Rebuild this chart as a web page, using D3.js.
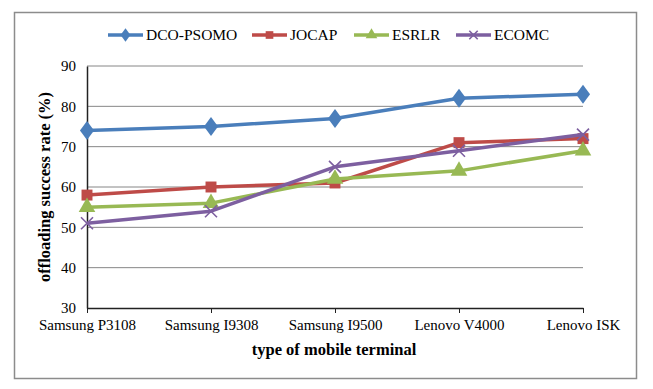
<!DOCTYPE html>
<html>
<head>
<meta charset="utf-8">
<style>
body{margin:0;background:#fff;}
svg{display:block;}
</style>
</head>
<body>
<script src="https://cdn.jsdelivr.net/npm/d3@7/dist/d3.min.js"></script>
<script>
var categories = ["Samsung P3108","Samsung I9308","Samsung I9500","Lenovo V4000","Lenovo ISK"];
var seriesNames = ["DCO-PSOMO","JOCAP","ESRLR","ECOMC"];
var dcoPsomo = [74,75,77,82,83];
var jocap = [58,60,61,71,72];
var esrlr = [55,56,62,64,69];
var ecomc = [51,54,65,69,73];
var yTicks = [30,40,50,60,70,80,90];

var colors = ["#4A7EBB","#BE4B48","#98B954","#7D5FA0"];
var symbols = [d3.symbolDiamond, d3.symbolSquare, d3.symbolTriangle, d3.symbolCross];
var series = [dcoPsomo, jocap, esrlr, ecomc];
var serif = "'Liberation Serif', 'Times New Roman', serif";

var w = 653, h = 389;
var pLeft = 87, pRight = 583, pTop = 66, pBottom = 308;

var svg = d3.select("body").append("svg").attr("width", w).attr("height", h);

// outer frame
svg.append("rect").attr("x",14.5).attr("y",12.5).attr("width",622).attr("height",366)
  .attr("fill","#fff").attr("stroke","#8c8c8c").attr("stroke-width",1.5);

var x = d3.scalePoint().domain(categories).range([pLeft, pRight]);
var y = d3.scaleLinear().domain([30,90]).range([pBottom, pTop]);

// gridlines
svg.append("g").selectAll("line").data(yTicks.slice(1)).enter().append("line")
  .attr("x1", pLeft).attr("x2", pRight)
  .attr("y1", function(d){return y(d);}).attr("y2", function(d){return y(d);})
  .attr("stroke","#868686").attr("stroke-width",1);

// y axis
var yAxis = d3.axisLeft(y).tickValues(yTicks).tickSize(0).tickPadding(11);
var yg = svg.append("g").attr("transform","translate(" + pLeft + ",0)").call(yAxis);
yg.attr("font-family", serif).attr("font-size", 15);
yg.selectAll("text").attr("fill","#000");
yg.select(".domain").attr("stroke","#222").attr("stroke-width",1.5);

// x axis
var xAxis = d3.axisBottom(x).tickSize(5).tickSizeOuter(0).tickPadding(6);
var xg = svg.append("g").attr("transform","translate(0," + pBottom + ")").call(xAxis);
xg.attr("font-family", serif).attr("font-size", 15);
xg.selectAll("text").attr("fill","#000");
xg.select(".domain").attr("stroke","#222").attr("stroke-width",1.5);
xg.selectAll(".tick line").attr("stroke","#222");

// axis titles
svg.append("text").attr("x", 334).attr("y", 355).attr("text-anchor","middle")
  .attr("font-family", serif).attr("font-size","16.5px").attr("font-weight","bold")
  .text("type of mobile terminal");
svg.append("text").attr("transform","translate(50," + ((pTop+pBottom)/2) + ") rotate(-90)")
  .attr("text-anchor","middle")
  .attr("font-family", serif).attr("font-size","16.5px").attr("font-weight","bold")
  .text("offloading success rate (%)");

// lines
var line = d3.line().x(function(d,i){return x(categories[i]);}).y(function(d){return y(d);});
var sizes = [130, 120, 120, 110];

function marker(g, k, cx, cy, sc) {
  if (k == 3) {
    var s = 6 * sc;
    g.append("path").attr("d","M" + (cx-s) + "," + (cy-s) + "L" + (cx+s) + "," + (cy+s) + "M" + (cx-s) + "," + (cy+s) + "L" + (cx+s) + "," + (cy-s))
      .attr("stroke", colors[k]).attr("stroke-width",1.6).attr("fill","none");
  } else {
    g.append("path").attr("d", d3.symbol().type(symbols[k]).size(sizes[k])())
      .attr("transform","translate(" + cx + "," + cy + ") scale(" + (k==0 ? 1.15*sc : sc) + "," + (k==0 ? 0.9*sc : sc) + ")")
      .attr("fill", colors[k]);
  }
}

series.forEach(function(vals, k){
  var g = svg.append("g");
  g.append("path").datum(vals).attr("d", line)
    .attr("fill","none").attr("stroke", colors[k]).attr("stroke-width",3.5).attr("stroke-linejoin","round");
  vals.forEach(function(v, i){ marker(g, k, x(categories[i]), y(v), 1); });
});

// legend
var legX = [108, 252, 354, 456];
var lg = svg.append("g");
seriesNames.forEach(function(name, k){
  var g = lg.append("g");
  var ly = 35;
  g.append("line").attr("x1", legX[k]).attr("x2", legX[k] + 35).attr("y1", ly).attr("y2", ly)
    .attr("stroke", colors[k]).attr("stroke-width",3.5);
  marker(g, k, legX[k] + 17.5, ly, 0.7);
  g.append("text").attr("x", legX[k] + 38).attr("y", ly + 5)
    .attr("font-family", serif).attr("font-size","15.5px")
    .text(name);
});
</script>
</body>
</html>
